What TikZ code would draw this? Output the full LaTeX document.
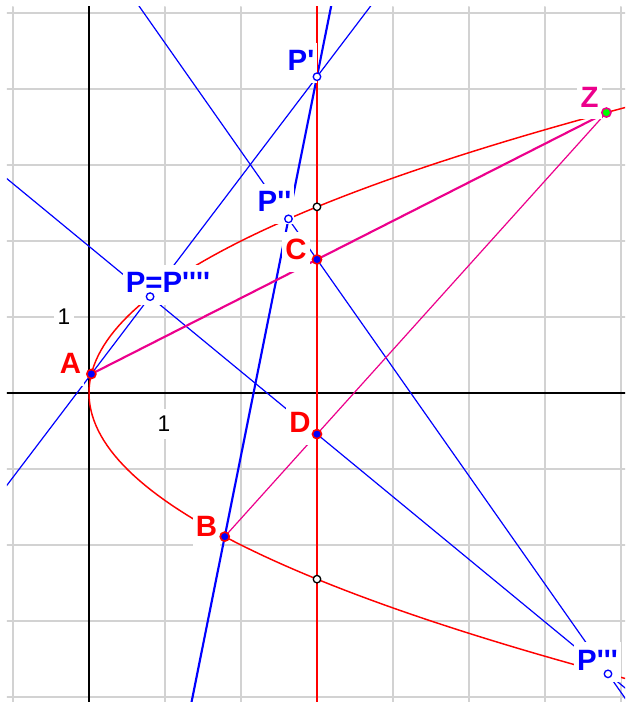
\documentclass[tikz,border=0pt]{standalone}
\usepackage{fontspec}
\newfontfamily\labfont{Liberation Sans}
\usetikzlibrary{calc}
\definecolor{gridgray}{RGB}{210,210,210}

\begin{document}
\begin{tikzpicture}[
    line cap=round,
    gridline/.style={gridgray,line width=0.75pt},
    axis/.style={black,line width=0.8pt},
    blueline/.style={blue,line width=0.45pt},
    magline/.style={magenta,line width=0.45pt},
    lab/.style={font=\labfont\bfseries\fontsize{11}{13}\selectfont,fill=white,
        inner xsep=1.2pt,inner ysep=1.5pt,text height=9pt,text depth=3pt,anchor=base},
    num/.style={lab,font=\labfont\fontsize{8.5}{10}\selectfont,text height=7pt,text depth=1pt}
]
\useasboundingbox (-1.171,-4.066) rectangle (7.053,5.171);

% points on the parabola y^2=2x and on the line x=3
\coordinate (A) at (0.03125,0.25);
\coordinate (B) at (1.78605,-1.89);
\coordinate (Z) at (6.80805,3.69);
\coordinate (C) at (3,1.75698);
\coordinate (D) at (3,-0.54117);
\coordinate (P) at (0.80391,1.268);
\coordinate (P1) at (3,4.16140);
\coordinate (P2) at (2.62483,2.29121);
\coordinate (P3) at (6.82920,-3.69573);
\coordinate (E1) at (3,2.44949);
\coordinate (E2) at (3,-2.44949);
\coordinate (Lb) at (3,-4.3);
\coordinate (Lt) at (3,5.3);

\begin{scope}
\clip (-1.079,-4.066) rectangle (7.053,5.079);
\draw[gridline,step=1] (-1.079,-4.066) grid (7.053,5.079);
\draw[axis] (-1.2,0) -- (7.2,0);
\draw[axis] (0,-4.2) -- (0,5.2);

\draw[blueline] ($(A)!-3!(P1)$) -- ($(A)!3!(P1)$);
\draw[blueline,line width=0.8pt] ($(B)!-2!(P1)$) -- ($(B)!3!(P1)$);
\draw[blueline] ($(C)!-3!(P3)$) -- ($(C)!2!(P3)$);
\draw[blueline] ($(D)!-3!(P3)$) -- ($(D)!2!(P3)$);

\draw[magline,line width=0.8pt] (A) -- (Z);
\draw[magline] (B) -- (Z);

\draw[red,line width=0.7pt] (Lb) -- (Lt);
\draw[red,line width=0.55pt] plot[domain=-3.9:3.9,samples=120] ({\x*\x/2},\x);
\end{scope}

% labels
\node[num] (l1x) at (0.987,-0.513) {1};
\node[num] (l1y) at (-0.329,0.895) {1};
\node[lab,text=red] (lA) at (-0.243,0.250) {A};
\node[lab,text=red] (lB) at (1.546,-1.882) {B};
\node[lab,text=red] (lC) at (2.724,1.750) {C};
\node[lab,text=red] (lD) at (2.776,-0.526) {D};
\node[lab,text=magenta] (lZ) at (6.586,3.763) {Z};
\node[lab,text=blue] (lP) at (1.039,1.316) {P=P\textquotesingle\textquotesingle\textquotesingle\textquotesingle};
\node[lab,text=blue] (lP1) at (2.789,4.237) {P\textquotesingle};
\node[lab,text=blue] (lP2) at (2.441,2.382) {P\textquotesingle\textquotesingle};
\node[lab,text=blue] (lP3) at (6.691,-3.645) {P\textquotesingle\textquotesingle\textquotesingle};

% points
\foreach \p in {A,B,C,D}
  \filldraw[fill=blue,draw=red,line width=0.6pt] (\p) circle (1.7pt);
\foreach \p in {P,P1,P2,P3}
  \filldraw[fill=white,draw=blue,line width=0.5pt] (\p) circle (1.4pt);
\foreach \p in {E1,E2}
  \filldraw[fill=white,draw=black,line width=0.5pt] (\p) circle (1.4pt);
\filldraw[fill=green,draw=magenta,line width=0.6pt] (Z) circle (1.7pt);
\end{tikzpicture}
\end{document}
